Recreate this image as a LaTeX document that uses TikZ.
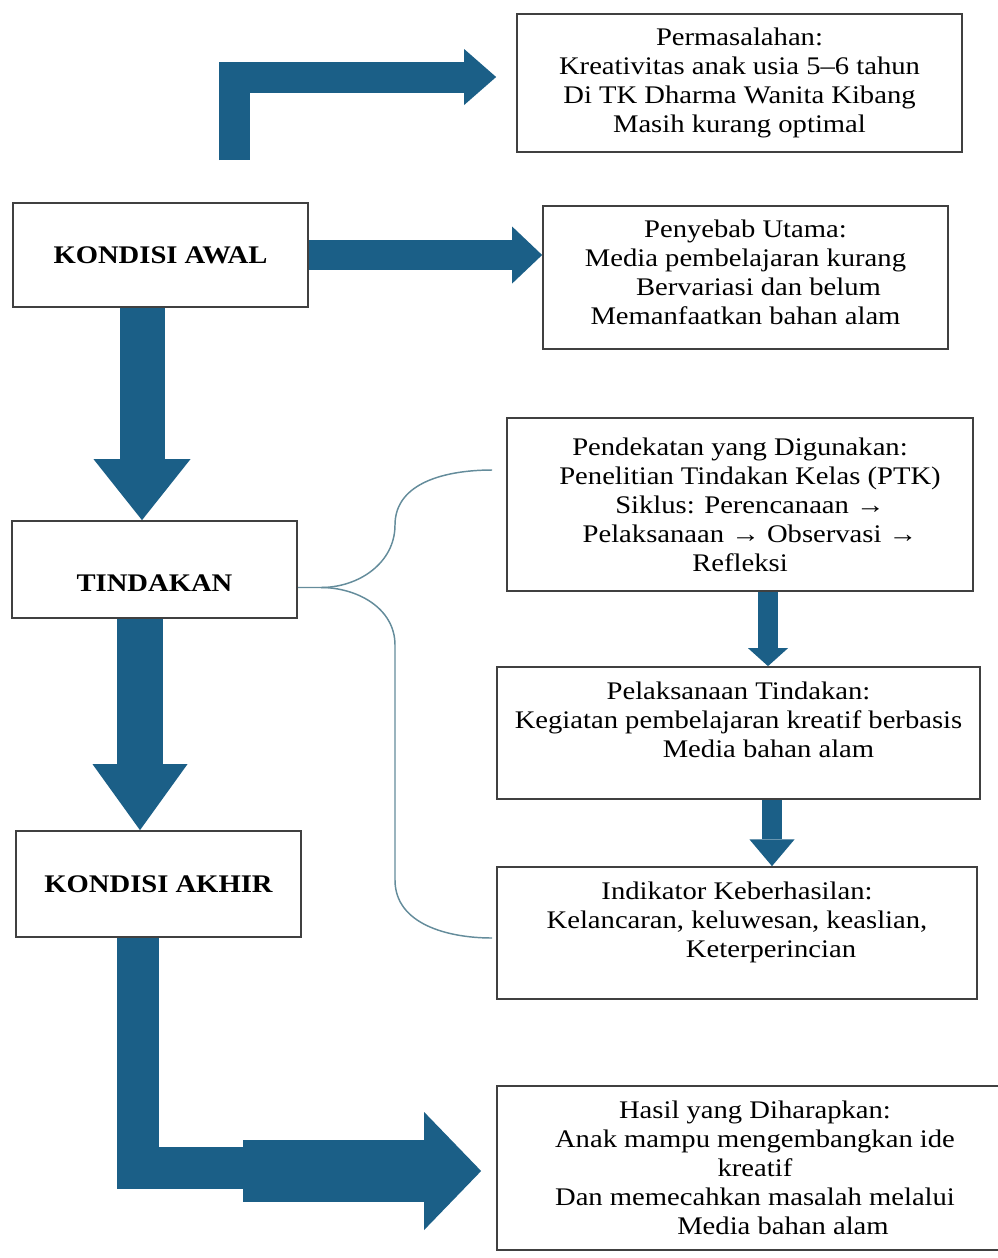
\documentclass[tikz,border=0pt]{standalone}
\usepackage{fontspec}
\setmainfont{Liberation Serif}[FakeStretch=1.13]
\usepackage{xcolor}
\usepackage{tikz}
\usetikzlibrary{arrows.meta,calc,backgrounds}
\definecolor{ptkblue}{RGB}{27,95,135}
\definecolor{ptkline}{RGB}{100,140,155}
\tikzset{
  ptkmain/.style  = {rectangle, draw=black!75, line width=1.3pt, fill=white, align=center,
                     font=\fontsize{19pt}{21.75pt}\selectfont\bfseries, inner sep=0pt},
  ptkside/.style  = {rectangle, draw=black!75, line width=1.3pt, fill=white, align=center,
                     font=\fontsize{19pt}{21.75pt}\selectfont, inner sep=0pt},
  ptkflow/.style  = {draw=ptkblue, line cap=butt, line join=miter},
  ptkbrace/.style = {draw=ptkline, line width=1.1pt},
}

\begin{document}
\begin{tikzpicture}[x=0.75pt, y=-0.75pt]
  \useasboundingbox (0,0) rectangle (998,1258);

  \node[ptkside, minimum width=333.75pt, minimum height=103.5pt] (prob) at (739.5,83)
        {Permasalahan:\\Kreativitas anak usia 5–6 tahun\\Di TK Dharma Wanita Kibang\\Masih kurang optimal};
  \node[ptkmain, minimum width=221.25pt, minimum height=78pt] (awal) at (160.5,255) {KONDISI AWAL};
  \node[ptkside, minimum width=303.75pt, minimum height=107.25pt, text depth=8pt] (sebab) at (745.5,277.5)
        {Penyebab Utama:\\Media pembelajaran kurang\\\hspace*{19.5pt}Bervariasi dan belum\\Memanfaatkan bahan alam};
  \node[ptkside, minimum width=349.5pt, minimum height=129.75pt] (pend) at (740,504.5)
        {Pendekatan yang Digunakan:\\\hspace*{15pt}Penelitian Tindakan Kelas (PTK)\\\hspace*{15pt}Siklus: Perencanaan →\\\hspace*{15pt}Pelaksanaan → Observasi →\\Refleksi};
  \node[ptkmain, minimum width=213.75pt, minimum height=72.75pt, text height=33pt] (tind) at (154.5,569.5) {TINDAKAN};
  \node[ptkside, minimum width=362.25pt, minimum height=99pt, text depth=20pt] (laks) at (738.5,733)
        {Pelaksanaan Tindakan:\\Kegiatan pembelajaran kreatif berbasis\\\hspace*{45pt}Media bahan alam};
  \node[ptkmain, minimum width=213.75pt, minimum height=79.5pt] (akhir) at (158.5,884) {KONDISI AKHIR};
  \node[ptkside, minimum width=360pt, minimum height=99pt, text depth=20pt] (indik) at (737,933)
        {Indikator Keberhasilan:\\Kelancaran, keluwesan, keaslian,\\\hspace*{51pt}Keterperincian};
  \node[ptkside, minimum width=387pt, minimum height=123pt] (hasil) at (755,1168)
        {Hasil yang Diharapkan:\\Anak mampu mengembangkan ide\\kreatif\\Dan memecahkan masalah melalui\\\hspace*{42pt}Media bahan alam};

  \coordinate (topstart) at (234,160);
  \coordinate (colA) at (142,0);
  \coordinate (colB) at (140,0);
  \coordinate (colC) at (768,0);
  \coordinate (colD) at (772,0);
  \coordinate (colE) at (137.5,0);
  \coordinate (bend) at (250,1167.5);
  \coordinate (bigstart) at (243,1171);
  \coordinate (fork) at ($(tind.east)+(23,18)$);

  \begin{scope}[on background layer]
    \draw[ptkflow, line width=23.25pt, -{Triangle[length=24pt, width=42pt, line width=0pt]}]
      (topstart) |- ($(prob.west)+(-20,-6)$);
    \draw[ptkflow, line width=22.5pt, -{Triangle[length=22.5pt, width=42.75pt, line width=0pt]}]
      (awal.east) -- (awal.east -| sebab.west);
    \draw[ptkflow, line width=33.75pt, -{Triangle[length=45.75pt, width=72.75pt, line width=0pt]}]
      (colA |- awal.south) -- (colA |- tind.north);
    \draw[ptkflow, line width=34.5pt, -{Triangle[length=49.5pt, width=71.25pt, line width=0pt]}]
      (colB |- tind.south) -- (colB |- akhir.north);
    \draw[ptkflow, line width=15pt, -{Triangle[length=13.5pt, width=30pt, line width=0pt]}]
      (colC |- pend.south) -- (colC |- laks.north);
    \draw[ptkflow, line width=15pt, -{Triangle[length=20pt, width=33.75pt, line width=0pt]}]
      (colD |- laks.south) -- (colD |- indik.north);
    % the last step bends round to the expected result
    \draw[ptkflow, line width=31.5pt] (colE |- akhir.south) |- (bend);
    \draw[ptkflow, line width=46.5pt, -{Triangle[length=42.75pt, width=88.5pt, line width=0pt]}]
      (bigstart) -- ($(hasil.west)+(-15,3)$);

    % brace from TINDAKAN to the three action boxes
    \draw[ptkbrace] ($(tind.east)+(0,18)$) -- (fork) to[out=0,in=-90] (395,525)
      to[out=90,in=180] ($(pend.west)+(-14,-34.5)$);
    \draw[ptkbrace] (fork) to[out=0,in=90] (395,645) -- (395,880)
      to[out=-90,in=180] ($(indik.west)+(-4,5)$);
  \end{scope}
\end{tikzpicture}
\end{document}
